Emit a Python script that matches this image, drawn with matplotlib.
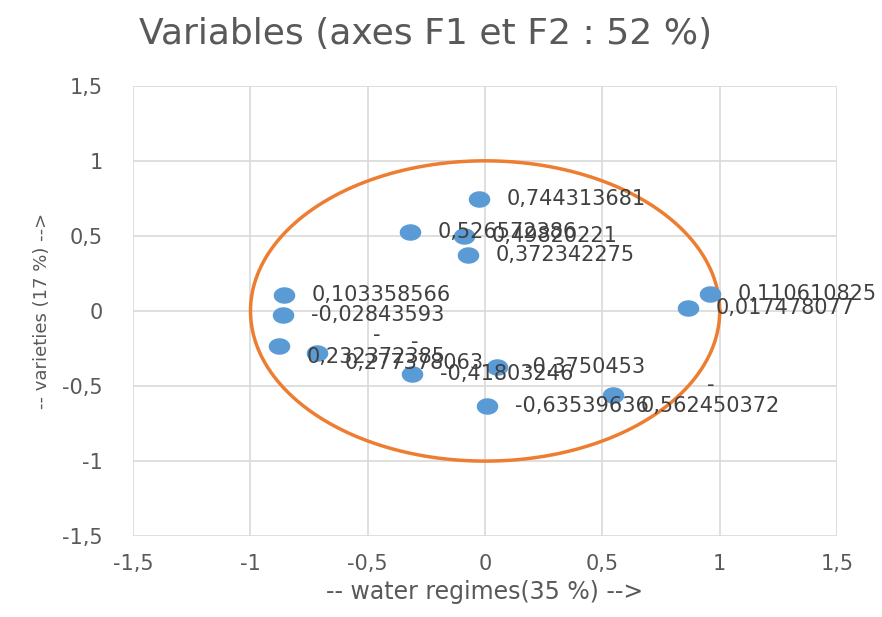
import numpy as np
import matplotlib.pyplot as plt
from matplotlib.path import Path

# Coordonnées des variables (F1, F2)
x_vals = [-0.026, -0.320, -0.090, -0.072, -0.856, -0.861, -0.878,
          -0.716, -0.311, 0.051, 0.009, 0.545, 0.959, 0.865]
y_vals = [0.744313681, 0.526572386, 0.49820221, 0.372342275, 0.103358566,
          -0.02843593, -0.232372385, -0.277378063, -0.41803246, -0.3750453,
          -0.63539636, -0.562450372, 0.110610825, 0.017478077]
labels = ['0,744313681', '0,526572386', '0,49820221', '0,372342275',
          '0,103358566', '-0,02843593', '-\n0,232372385', '-\n0,277378063',
          '-0,41803246', '-0,3750453', '-0,63539636', '-\n0,562450372',
          '0,110610825', '0,017478077']
ticks = [-1.5, -1, -0.5, 0, 0.5, 1, 1.5]
tick_labels = ['-1,5', '-1', '-0,5', '0', '0,5', '1', '1,5']

grey = '#595959'
blue = '#5B9BD5'
orange = '#ED7D31'

fig = plt.figure(figsize=(8.82, 6.17), dpi=100)
ax = fig.add_axes([0.151, 0.131, 0.798, 0.730])

# cercle des corrélations
t = np.linspace(0, 2 * np.pi, 400)
ax.plot(np.cos(t), np.sin(t), color=orange, lw=2.5, zorder=2)

# marqueur elliptique (le graphique d'origine est étiré horizontalement)
th = np.linspace(0, 2 * np.pi, 60)
ell = Path(np.column_stack([np.cos(th), 0.75 * np.sin(th)]), closed=True)
ax.plot(x_vals, y_vals, linestyle='none', marker=ell, markersize=14.5,
        color=blue, markeredgecolor=blue, zorder=3)

for x, y, lab in zip(x_vals, y_vals, labels):
    ax.annotate(lab, (x, y), xytext=(20, 0), textcoords='offset points',
                ha='left', va='center', multialignment='center',
                fontsize=15, color='#404040', zorder=4, linespacing=1.1)

ax.set_xlim(-1.5, 1.5)
ax.set_ylim(-1.5, 1.5)
ax.set_xticks(ticks)
ax.set_xticklabels(tick_labels)
ax.set_yticks(ticks)
ax.set_yticklabels(tick_labels)
ax.tick_params(length=0, labelsize=15, colors=grey)
ax.tick_params(axis='x', pad=13)
ax.tick_params(axis='y', pad=22)
ax.grid(True, color='#D9D9D9', lw=1.2)
ax.set_axisbelow(True)
for s in ax.spines.values():
    s.set_visible(False)

ax.set_xlabel('-- water regimes(35 %) -->', fontsize=17, color=grey, labelpad=4)
ax.set_ylabel('-- varieties (17 %) -->', fontsize=13, color=grey, labelpad=8)
fig.text(0.482, 0.945, 'Variables (axes F1 et F2 : 52 %)', ha='center',
         va='center', fontsize=26, color=grey)

plt.savefig('out.png', dpi=100)
